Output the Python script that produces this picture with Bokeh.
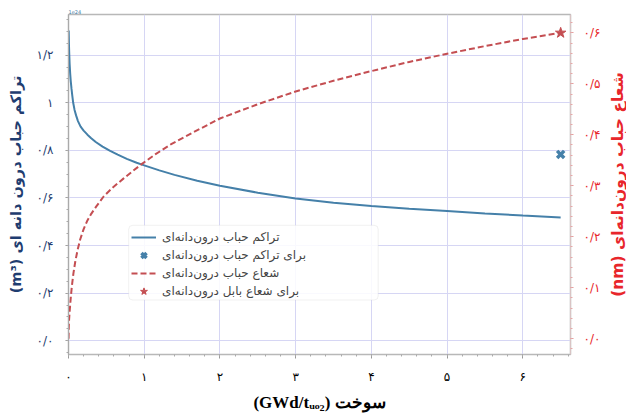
from bokeh.plotting import figure
from bokeh.layouts import row
from bokeh.models import Range1d, LinearAxis, FixedTicker, Legend, LegendItem, BoxAnnotation
from bokeh.embed import file_html
from bokeh.resources import INLINE

# ---------------- data ----------------
burnup_conc = [0.002, 0.006, 0.01, 0.015, 0.022, 0.03, 0.04, 0.05, 0.062, 0.08, 0.1, 0.125,
               0.16, 0.2, 0.25, 0.3, 0.36, 0.45, 0.55, 0.65, 0.77, 0.9, 1.0, 1.2, 1.4, 1.7,
               2.0, 2.5, 3.0, 3.5, 4.0, 4.5, 5.0, 5.5, 6.0, 6.5]
conc = [1.304, 1.245, 1.205, 1.163, 1.124, 1.09, 1.058, 1.03, 1.0, 0.97, 0.947, 0.923,
        0.9, 0.883, 0.866, 0.851, 0.835, 0.816, 0.798, 0.782, 0.764, 0.748, 0.737, 0.716, 0.697, 0.672,
        0.651, 0.622, 0.598, 0.58, 0.566, 0.555, 0.545, 0.535, 0.526, 0.518]

burnup_rad = [0.0, 0.003, 0.008, 0.015, 0.0225, 0.032, 0.045, 0.065, 0.089, 0.12, 0.155, 0.2,
              0.25, 0.3, 0.37, 0.464, 0.58, 0.725, 0.85, 0.97, 1.15, 1.35, 1.65, 2.0, 2.5,
              3.0, 3.5, 4.0, 4.5, 5.0, 5.5, 6.0, 6.5]
radius = [0.0, 0.022, 0.038, 0.053, 0.067, 0.084, 0.104, 0.128, 0.151, 0.174, 0.195, 0.215,
          0.232, 0.245, 0.26, 0.279, 0.296, 0.314, 0.329, 0.343, 0.362, 0.381, 0.405, 0.432, 0.46,
          0.485, 0.506, 0.525, 0.543, 0.559, 0.574, 0.588, 0.60]

conc_ref_x = [6.5]
conc_ref_y = [0.783]
rad_ref_x = [6.5]
rad_ref_y = [0.60]

x_ticks = [0, 1, 2, 3, 4, 5, 6]
x_tick_labels = ["۰", "۱", "۲", "۳", "۴", "۵", "۶"]
left_ticks = [0.0, 0.2, 0.4, 0.6, 0.8, 1.0, 1.2]
left_tick_labels = ["۰/۰", "۰/۲", "۰/۴", "۰/۶", "۰/۸", "۱", "۱/۲"]
right_ticks = [0.0, 0.1, 0.2, 0.3, 0.4, 0.5, 0.6]
right_tick_labels = ["۰/۰", "۰/۱", "۰/۲", "۰/۳", "۰/۴", "۰/۵", "۰/۶"]

legend_labels = ["تراکم حباب درون‌دانه‌ای",
                 "برای تراکم حباب درون‌دانه‌ای",
                 "شعاع حباب درون‌دانه‌ای",
                 "برای شعاع بابل درون‌دانه‌ای"]
left_title = "(m³) تراکم حباب درون دانه ای"
right_title = "(nm) شعاع حباب درون‌دانه‌ای"
x_title = "(GWd/tᵤₒ₂) سوخت"
offset_text = "1e24"

# ---------------- styling ----------------
BLUE = "#4580a9"
RED = "#c44e52"
NAVY = "#1f3d70"
BRIGHT_RED = "#e8262b"
GRID = "#d6d6f4"
SERIF = "Liberation Serif"
SANS = "DejaVu Sans"

p = figure(width=605, height=414, output_backend="svg", toolbar_location=None,
           x_range=Range1d(0, 6.63), y_range=Range1d(-0.058, 1.371),
           min_border_left=68, min_border_right=35, min_border_top=14, min_border_bottom=57)
p.extra_y_ranges = {"r": Range1d(-0.031, 0.636)}
p.background_fill_color = "white"
p.border_fill_color = "white"
p.outline_line_color = "#b8b8b8"
p.outline_line_width = 1.5

p.title.text = offset_text
p.title.text_font = SANS
p.title.text_font_size = "5px"
p.title.text_font_style = "normal"
p.title.text_color = BLUE
p.title.align = "left"
p.title.standoff = 2
p.title.offset = 0

p.xgrid.grid_line_color = GRID
p.ygrid.grid_line_color = GRID

# x axis
xa = p.xaxis[0]
xa.ticker = FixedTicker(ticks=x_ticks, minor_ticks=[round(i * 0.2, 2) for i in range(34)])
xa.major_label_overrides = dict(zip(x_ticks, x_tick_labels))
xa.major_label_text_font = SANS
xa.major_label_text_font_size = "12px"
xa.major_label_text_color = "black"
xa.major_label_standoff = 11
xa.axis_label = x_title
xa.axis_label_text_font = SERIF
xa.axis_label_text_font_style = "bold"
xa.axis_label_text_font_size = "17px"
xa.axis_label_text_color = "black"
xa.axis_label_standoff = 6
xa.axis_line_color = "#b8b8b8"
xa.major_tick_line_color = "#999999"
xa.minor_tick_line_color = "#aaaaaa"
xa.major_tick_in = 0
xa.major_tick_out = 4
xa.minor_tick_in = 0
xa.minor_tick_out = 2

# left axis
ya = p.yaxis[0]
ya.ticker = FixedTicker(ticks=left_ticks, minor_ticks=[round(-0.05 + i * 0.05, 2) for i in range(29)])
ya.major_label_overrides = dict(zip(left_ticks, left_tick_labels))
ya.major_label_text_font = SANS
ya.major_label_text_font_size = "12px"
ya.major_label_text_color = NAVY
ya.major_label_standoff = 12
ya.axis_label = left_title
ya.axis_label_text_font = SANS
ya.axis_label_text_font_style = "bold"
ya.axis_label_text_font_size = "14.5px"
ya.axis_label_text_color = NAVY
ya.axis_label_standoff = 10
ya.axis_line_color = "#aaaaaa"
ya.major_tick_line_color = "#999999"
ya.minor_tick_line_color = "#aaaaaa"
ya.major_tick_in = 0
ya.major_tick_out = 3
ya.minor_tick_in = 0
ya.minor_tick_out = 2

# right axis (ticks only; its title is drawn by the narrow side figure)
ra = LinearAxis(y_range_name="r")
ra.ticker = FixedTicker(ticks=right_ticks, minor_ticks=[round(-0.02 + i * 0.02, 2) for i in range(34)])
ra.major_label_overrides = dict(zip(right_ticks, right_tick_labels))
ra.major_label_text_font = SANS
ra.major_label_text_font_size = "12px"
ra.major_label_text_color = BRIGHT_RED
ra.major_label_standoff = 10
ra.axis_line_color = "#d9c4c4"
ra.major_tick_line_color = "#e39a9a"
ra.minor_tick_line_color = "#e6a8a8"
ra.major_tick_in = 0
ra.major_tick_out = 3
ra.minor_tick_in = 0
ra.minor_tick_out = 2
p.add_layout(ra, "right")

# glyphs
r1 = p.line(burnup_conc, conc, line_color=BLUE, line_width=2)
r2 = p.scatter(conc_ref_x, conc_ref_y, marker="x", size=10, line_width=3.5, line_color=BLUE)
r3 = p.line(burnup_rad, radius, y_range_name="r", line_color=RED, line_width=2, line_dash="6 3")
r4 = p.scatter(rad_ref_x, rad_ref_y, y_range_name="r", marker="star", size=11,
               fill_color=RED, line_color=RED)

# legend frame + legend
box = BoxAnnotation(left=0.795, right=4.09, bottom=0.171, top=0.485,
                    fill_color="white", fill_alpha=0.85, line_color="#cfcfcf", line_width=1,
                    border_radius=4)
p.add_layout(box)
legend = Legend(items=[LegendItem(label=legend_labels[0], renderers=[r1]),
                       LegendItem(label=legend_labels[1], renderers=[r2]),
                       LegendItem(label=legend_labels[2], renderers=[r3]),
                       LegendItem(label=legend_labels[3], renderers=[r4])],
                location=(63, 54), label_text_font=SANS, label_text_font_size="12px",
                glyph_width=25, glyph_height=18, label_height=18, spacing=0, padding=0, margin=0,
                label_standoff=6, border_line_alpha=0, background_fill_alpha=0)
p.add_layout(legend)

# narrow side figure carrying the right-hand title (reads bottom-to-top)
p2 = figure(width=21, height=414, output_backend="svg", toolbar_location=None,
            x_range=Range1d(0, 1), y_range=Range1d(0, 1),
            min_border_left=19, min_border_right=0, min_border_top=14, min_border_bottom=57)
p2.outline_line_color = None
p2.background_fill_color = "white"
p2.border_fill_color = "white"
p2.xgrid.visible = False
p2.ygrid.visible = False
p2.xaxis.visible = False
a2 = p2.yaxis[0]
a2.ticker = FixedTicker(ticks=[])
a2.axis_line_color = None
a2.major_tick_line_color = None
a2.minor_tick_line_color = None
a2.major_tick_out = 0
a2.minor_tick_out = 0
a2.major_label_standoff = 0
a2.axis_label = right_title
a2.axis_label_text_font = SANS
a2.axis_label_text_font_style = "bold"
a2.axis_label_text_font_size = "15.5px"
a2.axis_label_text_color = BRIGHT_RED
a2.axis_label_standoff = 0

layout = row(p, p2)
open("out.html", "w").write(file_html(layout, INLINE))
